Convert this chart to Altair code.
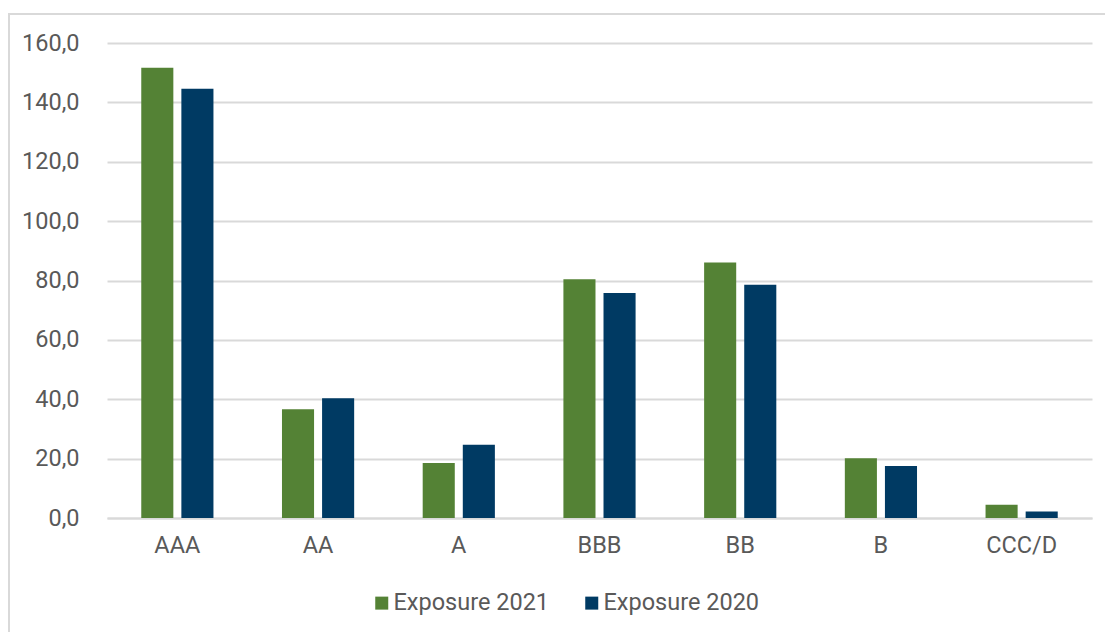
import altair as alt
import pandas as pd

# Exposure by rating grade, two reporting years
ratings = ["AAA", "AA", "A", "BBB", "BB", "B", "CCC/D"]
series = ["Exposure 2021", "Exposure 2020"]
exposure_2021 = [151.7, 36.6, 18.5, 80.4, 86.1, 20.1, 4.5]
exposure_2020 = [144.6, 40.3, 24.7, 75.8, 78.6, 17.5, 2.2]
y_ticks = [0, 20, 40, 60, 80, 100, 120, 140, 160]
colors = ["#548235", "#003a63"]

rows = []
for r, v21, v20 in zip(ratings, exposure_2021, exposure_2020):
    rows.append({"rating": r, "series": series[0], "value": v21})
    rows.append({"rating": r, "series": series[1], "value": v20})
df = pd.DataFrame(rows)

FONT = "Roboto"
TEXT = "#595959"
GRID = "#d9d9d9"
FS = 23.5
FW = 400

W, H = 985, 475

bars = alt.Chart(df).mark_bar().encode(
    x=alt.X(
        "rating:N",
        sort=ratings,
        scale=alt.Scale(paddingInner=0.487, paddingOuter=0.2435),
        axis=alt.Axis(
            title=None,
            labelAngle=0,
            labelFont=FONT,
            labelFontSize=FS,
            labelFontWeight=FW,
            labelColor=TEXT,
            labelPadding=15,
            ticks=False,
            domainColor=GRID,
            domainWidth=2,
            grid=False,
        ),
    ),
    xOffset=alt.XOffset(
        "series:N",
        sort=series,
        scale=alt.Scale(paddingInner=0.2, paddingOuter=0),
    ),
    y=alt.Y(
        "value:Q",
        scale=alt.Scale(domain=[0, 160], nice=False),
        axis=alt.Axis(
            title=None,
            values=y_ticks,
            labelExpr="replace(format(datum.value, '.1f'), '.', ',')",
            labelFont=FONT,
            labelFontSize=FS,
            labelFontWeight=FW,
            labelColor=TEXT,
            labelPadding=28,
            ticks=False,
            domain=False,
            gridColor=GRID,
            gridWidth=2,
        ),
    ),
    color=alt.Color(
        "series:N",
        sort=series,
        scale=alt.Scale(domain=series, range=colors),
        legend=alt.Legend(
            title=None,
            orient="none",
            direction="horizontal",
            legendX=263,
            legendY=548,
            symbolType="square",
            symbolSize=169,
            symbolStrokeWidth=0,
            labelFont=FONT,
            labelFontSize=FS,
            labelFontWeight=FW,
            labelColor=TEXT,
            labelOffset=0,
            columnPadding=30,
        ),
    ),
)

# Light frame around the whole figure
frame = alt.Chart(pd.DataFrame({"k": [0]})).mark_rect(
    fill=None, stroke=GRID, strokeWidth=2
).encode(
    x=alt.value(-98),
    x2=alt.value(1005),
    y=alt.value(-29),
    y2=alt.value(620),
)

chart = alt.layer(frame, bars).properties(
    width=W,
    height=H,
    autosize=alt.AutoSizeParams(type="none"),
    padding={"left": 107, "top": 43, "right": 13, "bottom": 114},
).configure_view(stroke=None)

chart.save("out.html", embed_options={"renderer": "svg", "actions": False})
